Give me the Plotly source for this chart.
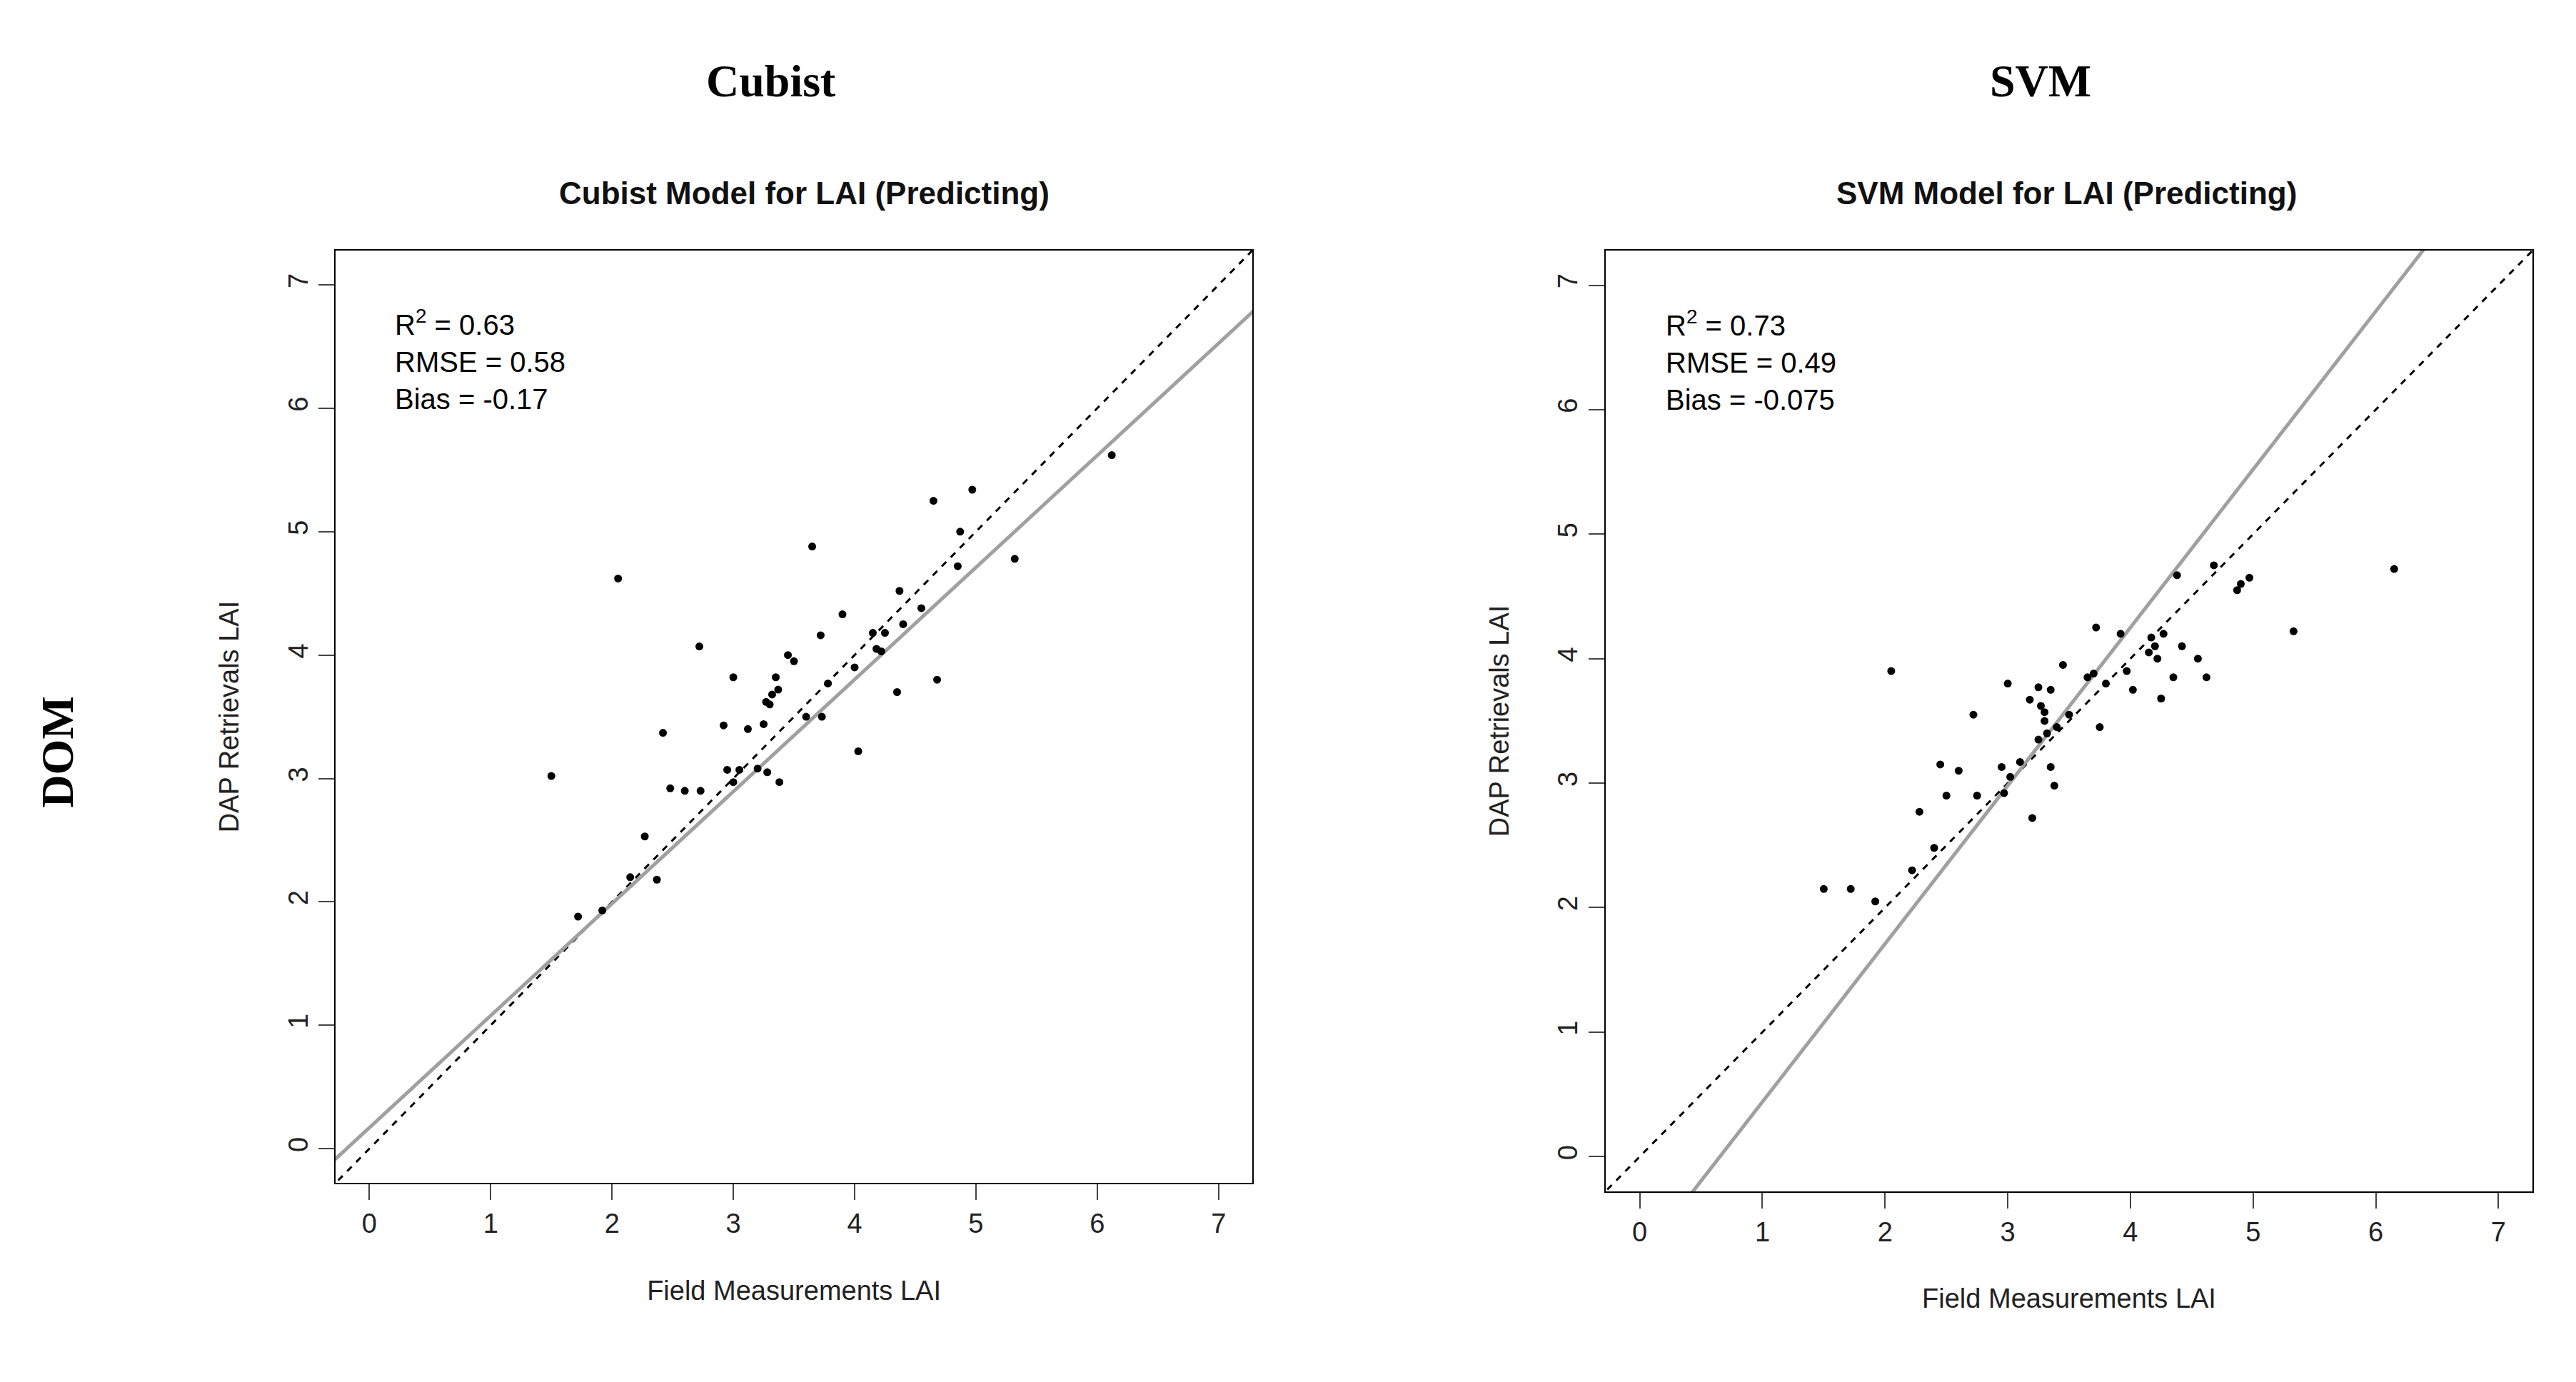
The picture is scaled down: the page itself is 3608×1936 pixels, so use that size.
import plotly.graph_objects as go

# Cubist model points (field LAI, DAP retrieval LAI)
cubist_x = [1.5, 2.05, 1.72, 1.92, 2.15, 2.27, 2.37, 2.42, 2.48, 2.6, 2.73, 2.72, 2.92, 2.95,
            3.0, 3.0, 3.05, 3.12, 3.2, 3.25, 3.28, 3.27, 3.3, 3.32, 3.35, 3.37, 3.38, 3.45,
            3.5, 3.6, 3.65, 3.72, 3.73, 3.78, 3.9, 4.0, 4.03, 4.15, 4.18, 4.22, 4.25, 4.35,
            4.37, 4.4, 4.55, 4.65, 4.68, 4.85, 4.87, 4.97, 5.32, 6.12]
cubist_y = [3.02, 4.62, 1.88, 1.93, 2.2, 2.53, 2.18, 3.37, 2.92, 2.9, 2.9, 4.07, 3.43, 3.07,
            3.82, 2.97, 3.07, 3.4, 3.08, 3.44, 3.05, 3.62, 3.6, 3.68, 3.82, 3.72, 2.97, 4.0,
            3.95, 3.5, 4.88, 4.16, 3.5, 3.77, 4.33, 3.9, 3.22, 4.18, 4.05, 4.03, 4.18, 3.7,
            4.52, 4.25, 4.38, 5.25, 3.8, 4.72, 5.0, 5.34, 4.78, 5.62]

# SVM model points
svm_x = [1.5, 1.72, 1.92, 2.05, 2.22, 2.28, 2.4, 2.45, 2.5, 2.6, 2.72, 2.75, 2.95, 2.97,
         3.0, 3.02, 3.1, 3.18, 3.2, 3.25, 3.25, 3.27, 3.3, 3.3, 3.32, 3.35, 3.35, 3.38,
         3.4, 3.45, 3.5, 3.65, 3.7, 3.72, 3.75, 3.8, 3.92, 3.97, 4.02, 4.15, 4.17, 4.2,
         4.22, 4.25, 4.27, 4.35, 4.38, 4.42, 4.55, 4.62, 4.68, 4.87, 4.9, 4.97, 5.33, 6.15]
svm_y = [2.15, 2.15, 2.05, 3.9, 2.3, 2.77, 2.48, 3.15, 2.9, 3.1, 3.55, 2.9, 3.13, 2.92,
         3.8, 3.05, 3.17, 3.67, 2.72, 3.35, 3.77, 3.62, 3.57, 3.5, 3.4, 3.75, 3.13, 2.98,
         3.45, 3.95, 3.55, 3.85, 3.88, 4.25, 3.45, 3.8, 4.2, 3.9, 3.75, 4.05, 4.17, 4.1,
         4.0, 3.68, 4.2, 3.85, 4.67, 4.1, 4.0, 3.85, 4.75, 4.55, 4.6, 4.65, 4.22, 4.72]

# regression fit lines (slope, intercept)
cubist_fit = (0.908, 0.17)
svm_fit = (1.27, -0.83)

stats = [["R<sup>2</sup> = 0.63", "RMSE = 0.58", "Bias = -0.17"],
         ["R<sup>2</sup> = 0.73", "RMSE = 0.49", "Bias = -0.075"]]
titles = ["Cubist Model for LAI (Predicting)", "SVM Model for LAI (Predicting)"]
headers = ["Cubist", "SVM"]
ticks = [0, 1, 2, 3, 4, 5, 6, 7]
rng = [-0.28, 7.28]
line_x = [-1, 9]

fig = go.Figure()
panels = [(cubist_x, cubist_y, cubist_fit, "x", "y"), (svm_x, svm_y, svm_fit, "x2", "y2")]
for px, py, (m, b), xa, ya in panels:
    fig.add_trace(go.Scatter(x=line_x, y=line_x, mode="lines", xaxis=xa, yaxis=ya,
                             line=dict(color="black", width=3, dash="dash"), showlegend=False))
    fig.add_trace(go.Scatter(x=line_x, y=[m * v + b for v in line_x], mode="lines",
                             xaxis=xa, yaxis=ya, line=dict(color="#a0a0a0", width=5),
                             showlegend=False))
    fig.add_trace(go.Scatter(x=px, y=py, mode="markers", xaxis=xa, yaxis=ya,
                             marker=dict(color="black", size=11), showlegend=False))

axis_style = dict(range=rng, tickvals=ticks, showline=True, linecolor="black", linewidth=2,
                  mirror=True, ticks="outside", ticklen=22, tickwidth=2, showgrid=False,
                  zeroline=False, tickfont=dict(family="Liberation Sans", size=38, color="#222"))
title_font = dict(family="Liberation Sans", size=38, color="#222")

fig.update_layout(
    width=3608, height=1936, plot_bgcolor="white", paper_bgcolor="white",
    margin=dict(l=0, r=0, t=0, b=0),
    xaxis=dict(domain=[0.128, 0.484], anchor="y", **axis_style,
               title=dict(text="Field Measurements LAI", font=title_font, standoff=60)),
    yaxis=dict(domain=[0.148, 0.823], anchor="x", tickangle=-90, **axis_style,
               title=dict(text="DAP Retrievals LAI", font=title_font, standoff=50)),
    xaxis2=dict(domain=[0.621, 0.981], anchor="y2", **axis_style,
                title=dict(text="Field Measurements LAI", font=title_font, standoff=60)),
    yaxis2=dict(domain=[0.142, 0.823], anchor="x2", tickangle=-90, **axis_style,
                title=dict(text="DAP Retrievals LAI", font=title_font, standoff=50)),
)

for i, (xa, ya) in enumerate([("x", "y"), ("x2", "y2")]):
    fig.add_annotation(x=0.2, y=6.85, xref=xa, yref=ya, xanchor="left", yanchor="top",
                       text="<br>".join(stats[i]), showarrow=False, align="left",
                       font=dict(family="Liberation Sans", size=40, color="black"))
    fig.add_annotation(x=[0.31, 0.80][i], y=0.878, xref="paper", yref="paper", xanchor="center",
                       text="<b>" + titles[i] + "</b>", showarrow=False,
                       font=dict(family="Liberation Sans", size=44, color="#111"))
    fig.add_annotation(x=[0.297, 0.79][i], y=0.965, xref="paper", yref="paper", xanchor="center",
                       text="<b>" + headers[i] + "</b>", showarrow=False,
                       font=dict(family="Liberation Serif", size=64, color="black"))

fig.add_annotation(x=0.02, y=0.46, xref="paper", yref="paper", xanchor="center",
                   text="<b>DOM</b>", textangle=-90, showarrow=False,
                   font=dict(family="Liberation Serif", size=64, color="black"))

fig.write_html("out.html")
